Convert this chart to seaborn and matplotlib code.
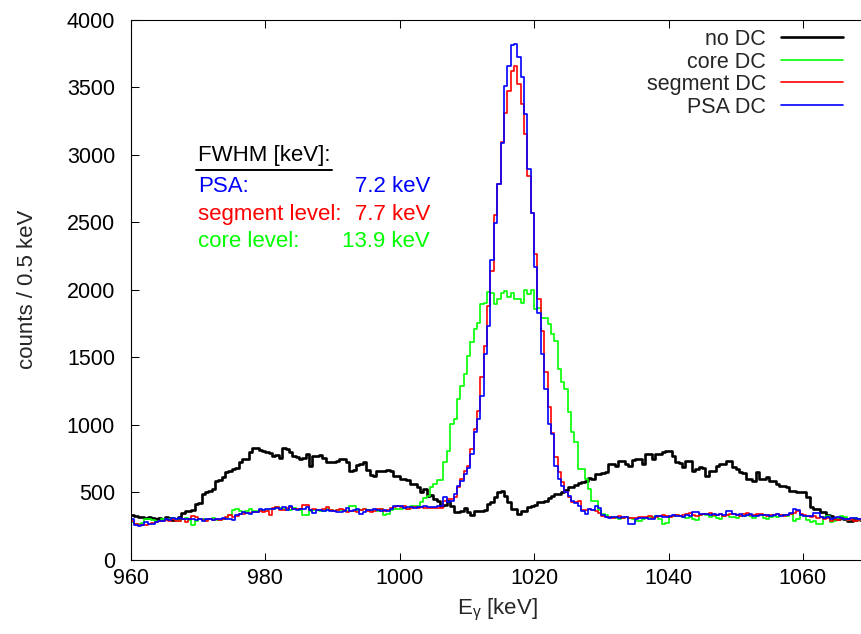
import numpy as np
import pandas as pd
import matplotlib
matplotlib.use("Agg")
import matplotlib.pyplot as plt
import seaborn as sns
from matplotlib.lines import Line2D

# ---------------- data (0.5 keV bins starting at 960 keV) ----------------
e_start = 960.0
bin_width = 0.5

no_dc = [
    330, 325, 315, 320, 312, 318, 310, 305, 312, 300,
    318, 308, 296, 302, 318, 350, 362, 366, 372, 414,
    420, 488, 500, 508, 528, 584, 590, 612, 650, 662,
    672, 680, 726, 745, 750, 796, 832, 828, 815, 810,
    800, 795, 772, 776, 758, 826, 818, 796, 772, 762,
    748, 752, 788, 698, 768, 772, 778, 756, 722, 728,
    724, 736, 748, 744, 722, 662, 668, 700, 708, 728,
    664, 626, 620, 660, 662, 658, 668, 660, 624, 620,
    600, 596, 590, 562, 560, 538, 500, 525, 476, 482,
    450, 440, 402, 404, 436, 400, 354, 356, 364, 382,
    352, 330, 364, 366, 362, 368, 414, 430, 464, 500,
    510, 476, 432, 378, 376, 340, 362, 366, 390, 402,
    404, 426, 428, 438, 456, 476, 488, 490, 500, 520,
    538, 540, 552, 568, 574, 586, 604, 600, 636, 640,
    644, 648, 714, 712, 696, 734, 732, 710, 698, 742,
    746, 748, 710, 784, 782, 748, 784, 786, 800, 808,
    806, 772, 722, 720, 686, 734, 732, 660, 672, 686,
    684, 624, 660, 662, 698, 710, 712, 734, 732, 686,
    672, 650, 646, 600, 598, 586, 648, 600, 598, 612,
    586, 584, 562, 550, 548, 538, 514, 512, 500, 504,
    506, 464, 392, 378, 376, 354, 352, 330, 326, 305,
    302, 316, 300, 292, 290, 294, 300, 298,
]

core_dc = [
    280, 270, 268, 276, 300, 306, 296, 286, 290, 300,
    294, 300, 308, 296, 290, 300, 312, 296, 262, 290,
    300, 302, 296, 304, 310, 298, 294, 300, 312, 330,
    372, 380, 360, 354, 366, 378, 360, 366, 372, 368,
    370, 374, 380, 392, 384, 378, 376, 368, 384, 380,
    368, 330, 334, 362, 368, 372, 360, 366, 374, 370,
    362, 372, 368, 366, 360, 396, 400, 368, 370, 374,
    372, 364, 370, 366, 380, 336, 340, 372, 376, 374,
    378, 382, 380, 396, 400, 400, 430, 460, 470, 540,
    560, 590, 590, 727, 808, 1006, 1042, 1190, 1289, 1375,
    1510, 1610, 1708, 1757, 1893, 1900, 1984, 1975, 1893, 1930,
    1975, 1990, 1950, 1975, 1935, 1930, 1900, 1999, 1970, 2000,
    1856, 1865, 1794, 1794, 1745, 1671, 1622, 1412, 1314, 1264,
    1092, 944, 870, 673, 673, 599, 525, 438, 438, 370,
    340, 330, 318, 316, 310, 306, 312, 318, 308, 300,
    286, 290, 300, 312, 316, 320, 322, 300, 270, 272,
    318, 322, 330, 326, 320, 314, 318, 300, 296, 330,
    340, 330, 320, 326, 310, 306, 328, 336, 320, 318,
    314, 322, 326, 330, 326, 310, 330, 336, 312, 306,
    318, 326, 320, 330, 336, 326, 338, 290, 300, 332,
    322, 296, 280, 290, 270, 268, 318, 322, 280, 288,
    310, 322, 316, 296, 306, 312, 300, 296,
]

segment_dc = [
    290, 268, 256, 258, 262, 266, 272, 284, 286, 290,
    296, 290, 300, 292, 286, 302, 284, 300, 322, 318,
    300, 296, 290, 302, 294, 300, 296, 300, 318, 332,
    316, 322, 338, 344, 350, 348, 358, 352, 362, 356,
    360, 330, 388, 394, 368, 372, 386, 392, 376, 378,
    380, 406, 404, 372, 376, 368, 370, 380, 392, 368,
    362, 372, 378, 370, 356, 366, 360, 358, 370, 376,
    366, 358, 362, 374, 378, 364, 370, 386, 392, 398,
    392, 396, 380, 386, 390, 384, 390, 388, 382, 382,
    384, 382, 384, 440, 448, 450, 464, 538, 599, 660,
    697, 821, 969, 1104, 1351, 1585, 1880, 2140, 2550, 2780,
    3090, 3310, 3470, 3618, 3655, 3520, 3372, 3150, 2841, 2571,
    2262, 1930, 1696, 1388, 1129, 940, 762, 653, 577, 500,
    463, 431, 426, 438, 370, 372, 378, 370, 360, 350,
    326, 318, 320, 312, 316, 322, 314, 318, 312, 308,
    310, 316, 320, 318, 324, 312, 318, 326, 330, 324,
    318, 328, 334, 326, 330, 338, 346, 332, 326, 336,
    342, 338, 346, 334, 330, 340, 328, 336, 344, 338,
    332, 328, 340, 346, 336, 330, 338, 342, 332, 326,
    330, 336, 344, 332, 326, 334, 338, 346, 360, 344,
    336, 328, 316, 324, 312, 318, 300, 310, 292, 306,
    296, 310, 304, 294, 302, 288, 296, 300,
]

psa_dc = [
    303, 262, 252, 258, 282, 268, 270, 280, 292, 288,
    300, 296, 310, 300, 312, 302, 300, 306, 300, 298,
    303, 292, 300, 305, 296, 300, 302, 310, 304, 300,
    298, 330, 342, 352, 350, 342, 353, 356, 376, 370,
    378, 374, 380, 388, 378, 390, 370, 396, 378, 372,
    376, 380, 392, 368, 350, 372, 372, 366, 370, 362,
    364, 358, 356, 366, 384, 360, 372, 374, 340, 356,
    368, 372, 378, 370, 366, 370, 360, 374, 402, 400,
    396, 384, 390, 392, 386, 392, 394, 396, 390, 394,
    394, 402, 402, 464, 431, 438, 488, 545, 586, 636,
    678, 784, 944, 1042, 1215, 1523, 1732, 2220, 2497, 2780,
    3083, 3507, 3655, 3808, 3822, 3724, 3576, 3298, 2896, 2571,
    2171, 1831, 1523, 1264, 1006, 932, 697, 599, 549, 500,
    475, 438, 421, 402, 365, 340, 377, 372, 402, 388,
    330, 318, 314, 316, 320, 312, 318, 320, 270, 268,
    305, 310, 308, 312, 300, 306, 322, 326, 320, 318,
    326, 330, 324, 328, 320, 332, 326, 352, 354, 340,
    338, 344, 330, 342, 336, 340, 332, 362, 366, 340,
    330, 338, 326, 334, 340, 328, 324, 336, 330, 332,
    326, 334, 340, 328, 330, 336, 346, 376, 372, 330,
    322, 326, 328, 350, 346, 320, 312, 316, 304, 310,
    318, 312, 306, 300, 314, 308, 302, 306,
]

labels = ["no DC", "core DC", "segment DC", "PSA DC"]
colors = ["#000000", "#00ff00", "#ff0000", "#0000ff"]
widths = [1.9, 1.2, 1.2, 1.2]

fwhm_names = ["PSA:", "segment level:", "core level:"]
fwhm_values = ["7.2 keV", "7.7 keV", "13.9 keV"]
fwhm_colors = ["#0000ff", "#ff0000", "#00ff00"]

x_ticks = [960, 980, 1000, 1020, 1040, 1060]
y_ticks = [0, 500, 1000, 1500, 2000, 2500, 3000, 3500, 4000]

# ---------------- styling ----------------
sns.set_theme(style="ticks")
plt.rcParams['font.family'] = ['Liberation Sans', 'DejaVu Sans']
plt.rcParams['mathtext.fontset'] = 'custom'
plt.rcParams['mathtext.rm'] = 'Liberation Sans'
plt.rcParams['mathtext.it'] = 'Liberation Sans:italic'

W, H = 862, 634
fig = plt.figure(figsize=(W / 100, H / 100), dpi=100)
ax_left, ax_bottom_px, ax_top_px = 131, 560, 19.5
ax = fig.add_axes([ax_left / W, 1 - ax_bottom_px / H, (W - ax_left) / W,
                   (ax_bottom_px - ax_top_px) / H])

n = len(no_dc)
edges = e_start + bin_width * np.arange(n + 1)

for lab, vals, col, lw in zip(labels, [no_dc, core_dc, segment_dc, psa_dc], colors, widths):
    df = pd.DataFrame({"energy": edges, "counts": list(vals) + [vals[-1]]})
    sns.lineplot(data=df, x="energy", y="counts", drawstyle="steps-post",
                 estimator=None, color=col, linewidth=lw, ax=ax)

ax.set_xlim(960, 1068.8)
ax.set_ylim(0, 4000)
ax.set_xticks(x_ticks)
ax.set_yticks(y_ticks)
ax.tick_params(axis='both', direction='in', length=5.4, width=0.75, labelsize=15.5,
               top=True, right=False, colors='black')
ax.tick_params(axis='x', pad=6)
ax.tick_params(axis='y', pad=11.5)
for s in ['top', 'left', 'bottom']:
    ax.spines[s].set_linewidth(0.8)
    ax.spines[s].set_color('black')
ax.spines['right'].set_visible(False)

axes_h = ax_bottom_px - ax_top_px
axes_w = W - ax_left
ax.set_xlabel(r'E$_{\rm γ}$ [keV]', fontsize=16)
ax.xaxis.set_label_coords((497 - ax_left) / axes_w, -(597 - ax_bottom_px) / axes_h)
ax.set_ylabel('counts / 0.5 keV', fontsize=16)
ax.yaxis.set_label_coords(-(ax_left - 38) / axes_w, 0.5)

handles = [Line2D([], [], color=c, lw=w) for c, w in zip(colors, widths)]
ax.legend(handles, labels, loc='upper right', bbox_to_anchor=(843 / W, 1 - 29 / H),
          bbox_transform=fig.transFigure, frameon=False, markerfirst=False,
          fontsize=15.5, handlelength=2.88, handletextpad=0.7, labelspacing=0.07,
          borderaxespad=0, borderpad=0)

# FWHM annotation block
fs = 16
fig.text(198 / W, 1 - 161 / H, "FWHM [keV]:", fontsize=fs, color='black', va='baseline', ha='left')
fig.add_artist(Line2D([196 / W, 332 / W], [1 - 169.5 / H, 1 - 169.5 / H], color='black', lw=1.4))
baselines = [192, 219.5, 247]
for name, val, col, b in zip(fwhm_names, fwhm_values, fwhm_colors, baselines):
    fig.text(198 / W, 1 - b / H, name, fontsize=fs, color=col, va='baseline', ha='left')
    fig.text(430 / W, 1 - b / H, val, fontsize=fs, color=col, va='baseline', ha='right')

fig.savefig("out.png", dpi=100)
